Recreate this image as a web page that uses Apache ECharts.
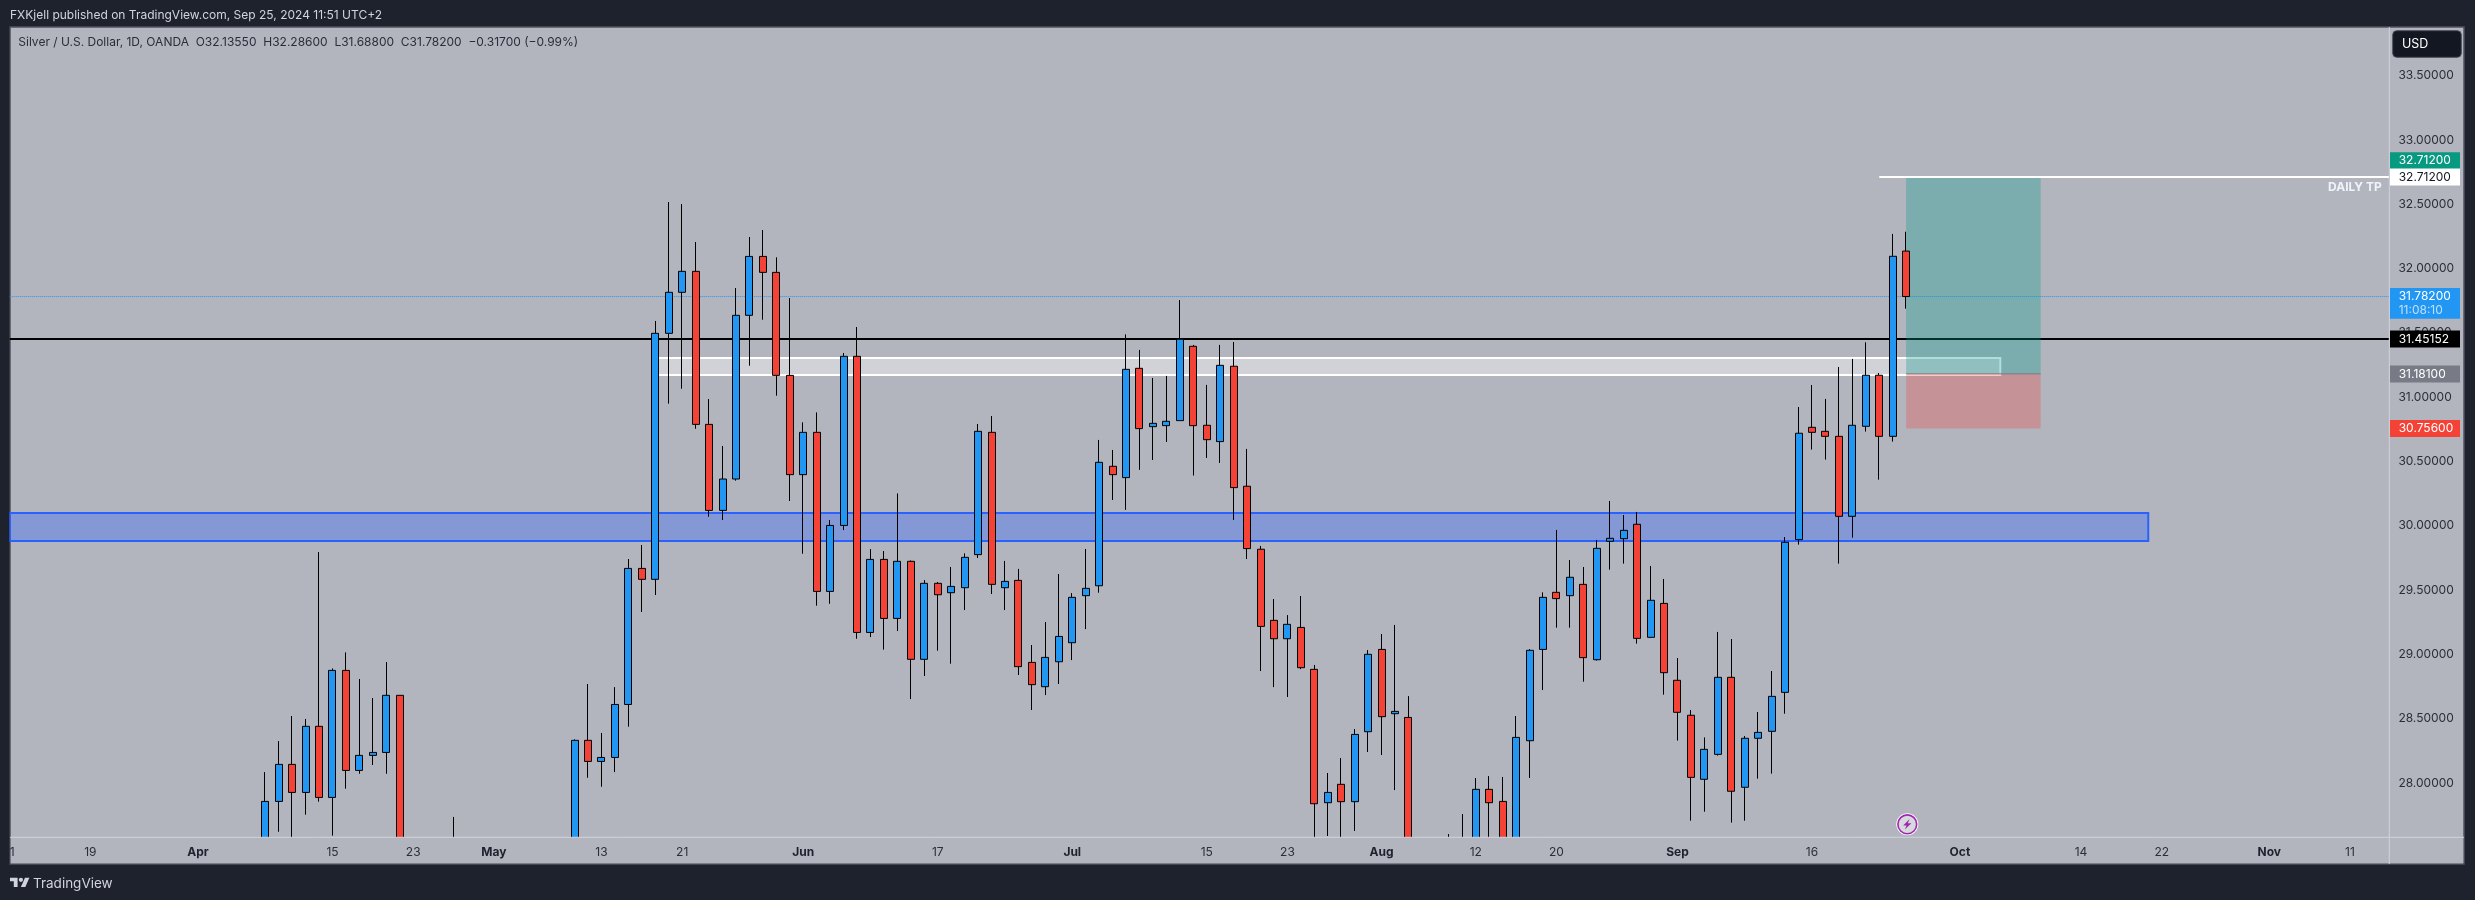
<!DOCTYPE html>
<html>
<head>
<meta charset="utf-8">
<title>Silver / U.S. Dollar</title>
<script src="https://cdn.jsdelivr.net/npm/echarts@6/dist/echarts.min.js"></script>
<style>
  html, body { margin: 0; padding: 0; background: #1e222d; }
  #chart { width: 2475px; height: 900px; }
</style>
</head>
<body>
<div id="chart"></div>
<script>
// bars counted in weekdays from Apr 1 2024
const barIndex = [5,6,7,8,9,10,11,12,13,14,15,19,28,29,30,31,32,33,34,35,36,37,38,39,40,41,42,43,44,45,46,47,48,49,50,51,52,53,54,55,56,57,58,59,60,61,62,63,64,65,66,67,68,69,70,71,72,73,74,75,76,77,78,79,80,81,82,83,84,85,86,87,88,89,90,93,94,95,96,97,98,99,100,101,102,103,104,105,106,107,108,109,110,111,112,113,114,115,116,117,118,119,120,121,122,123,124,125,126,127];
const opens = [27.40,27.856,28.144,27.926,28.44,27.887,28.875,28.097,28.214,28.237,28.681,27.45,27.5,28.331,28.167,28.198,28.61,29.668,29.583,31.496,31.815,31.978,30.788,30.119,30.363,31.636,32.094,31.97,31.169,30.397,30.726,29.489,30.002,31.317,29.17,29.738,29.279,29.723,28.961,29.552,29.479,29.518,29.775,30.726,29.518,29.575,28.937,28.748,28.942,29.09,29.456,29.533,30.462,30.374,31.224,30.77,30.778,30.817,31.395,30.781,30.654,31.24,30.307,29.817,29.264,29.121,29.209,28.883,27.846,27.989,27.854,28.398,29.038,28.538,28.509,27.45,27.45,27.45,27.95,27.856,27.5,28.328,29.038,29.482,29.456,29.544,28.958,29.879,29.899,30.011,29.132,29.396,28.798,28.526,28.028,28.222,28.821,27.966,28.347,28.401,28.704,29.892,30.765,30.734,30.695,30.073,30.773,31.17,30.695,32.1355];
const closes = [27.856,28.144,27.926,28.44,27.887,28.875,28.097,28.214,28.237,28.681,27.4,27.5,28.331,28.167,28.198,28.61,29.668,29.583,31.496,31.815,31.978,30.788,30.119,30.363,31.636,32.094,31.97,31.169,30.397,30.726,29.489,30.002,31.317,29.17,29.738,29.279,29.723,28.961,29.552,29.463,29.528,29.754,30.734,29.544,29.567,28.904,28.764,28.976,29.139,29.443,29.513,30.493,30.397,31.216,30.755,30.796,30.812,31.45,30.778,30.669,31.247,30.296,29.822,29.217,29.121,29.233,28.896,27.838,27.926,27.854,28.377,29.0,28.515,28.556,27.4,27.5,27.5,27.95,27.846,27.5,28.354,29.031,29.443,29.433,29.599,28.974,29.824,29.902,29.964,29.124,29.42,28.857,28.549,28.043,28.261,28.821,27.935,28.347,28.393,28.673,29.871,30.719,30.726,30.695,30.073,30.781,31.17,30.695,32.095,31.782];
const lows = [27.40,27.62,27.55,27.753,27.854,27.59,27.955,28.071,28.139,28.071,27.4,27.42,27.4,28.04,27.97,28.084,28.437,29.329,29.461,30.949,31.065,30.754,30.07,30.044,30.35,31.244,31.602,31.011,30.192,29.782,29.378,29.393,29.966,29.121,29.134,29.036,29.181,28.652,28.831,29.028,28.927,29.344,29.749,29.469,29.344,28.839,28.567,28.683,28.769,28.955,29.196,29.479,30.2,30.123,30.434,30.511,30.651,30.817,30.39,30.527,30.488,30.045,29.741,28.87,28.745,28.668,28.885,27.55,27.587,27.55,27.626,28.24,28.217,27.944,27.4,27.42,27.42,27.42,27.5,27.4,27.4,28.038,28.722,29.207,29.207,28.787,28.951,29.658,29.705,29.083,29.132,28.686,28.329,27.706,27.776,28.212,27.691,27.706,28.033,28.072,28.538,29.853,30.592,30.514,29.705,29.907,30.732,30.358,30.654,31.688];
const highs = [28.084,28.325,28.52,28.497,29.795,28.89,29.015,28.808,28.66,28.94,28.681,27.735,28.338,28.769,28.388,28.745,29.741,29.85,31.592,32.517,32.501,32.206,30.985,30.62,31.848,32.245,32.299,32.087,31.77,30.804,30.881,30.044,31.343,31.545,29.818,29.803,30.251,29.73,29.577,29.562,29.679,29.785,30.791,30.853,29.726,29.664,29.072,29.251,29.624,29.476,29.819,30.667,30.589,31.488,31.367,31.149,31.165,31.755,31.406,31.095,31.406,31.429,30.597,29.843,29.43,29.305,29.453,28.917,28.077,28.193,28.419,29.033,29.158,29.228,28.675,27.602,27.758,28.038,28.053,28.046,28.52,29.04,29.482,29.967,29.733,29.679,29.889,30.192,30.083,30.107,29.687,29.586,28.971,28.567,28.354,29.174,29.119,28.365,28.551,28.87,29.912,30.923,31.094,30.986,31.234,31.297,31.426,31.188,32.269,32.286];

// axis ticks
const priceTicks = [28,28.5,29,29.5,30,30.5,31,31.5,32,32.5,33,33.5];
const dateTicks = [-14,-8,0,10,16,22,30,36,45,55,65,75,81,88,95,101,110,120,131,140,146,154,160];
const dateLabels = ['11','19','Apr','15','23','May','13','21','Jun','17','Jul','15','23','Aug','12','20','Sep','16','Oct','14','22','Nov','11'];

// drawings: [from bar, to bar, lower price, upper price]
const blueZone = [-14,145,29.881,30.098];
const whiteZone = [34,134,31.172,31.305];
const profitZone = [127,137,31.181,32.712];
const lossZone = [127,137,30.756,31.181];
const xMin = -14, xMax = 162.9;
const yMin = 27.577, yMax = 33.878;
const targetPrice = 32.712, supportPrice = 31.45152, lastPrice = 31.782, entryPrice = 31.181;

// price scale badges
const badgePrices = [32.712,32.712,31.782,31.45152,31.181,30.756];
const badgeTexts = ['32.71200','32.71200','31.78200','31.45152','31.18100','30.75600'];

const FONT = 'Inter, "Noto Sans", sans-serif';
const badgeLook = [
    { fill: '#089981', color: '#ffffff', dy: -16.4 },
    { fill: '#ffffff', color: '#131722', dy: 0 },
    { fill: '#2196f3', color: '#ffffff', dy: 0, sub: '11:08:10' },
    { fill: '#000000', color: '#ffffff', dy: 0 },
    { fill: '#787b86', color: '#ffffff', dy: 0 },
    { fill: '#f44336', color: '#ffffff', dy: 0 }
];

function rectSeries(name, row, style, z){
    return {
        type: 'custom', name, z, silent: true, clip: true,
        data: [row],
        encode: { x: [0, 1], y: [2, 3] },
        renderItem(params, api){
            const a = api.coord([api.value(0), api.value(3)]);
            const b = api.coord([api.value(1), api.value(2)]);
            return { type: 'rect', shape: { x: a[0], y: a[1], width: b[0] - a[0], height: b[1] - a[1] }, style };
        }
    };
}

function levelSeries(name, from, to, price, lineStyle, z){
    return {
        type: 'line', name, z, silent: true, showSymbol: false, symbol: 'none', animation: false,
        data: [[from, price], [to, price]],
        lineStyle
    };
}

const badgeSeries = {
    type: 'custom', name: 'badges', z: 10, silent: true, clip: false,
    data: badgePrices.map(p => [127, p]),
    encode: { x: 0, y: 1 },
    renderItem(params, api){
        const look = badgeLook[params.dataIndex];
        const yc = Math.round(api.coord([127, api.value(1)])[1] * 2) / 2 + look.dy;
        const children = [
            { type: 'rect', shape: { x: 2390, y: yc - 8.4, width: 70, height: look.sub ? 30.7 : 16.8 }, style: { fill: look.fill } },
            { type: 'text', x: 2398.7, y: yc, style: { text: badgeTexts[params.dataIndex], fill: look.color, font: '12px ' + FONT, verticalAlign: 'middle' } }
        ];
        if(look.sub){
            children.push({ type: 'text', x: 2398.7, y: yc + 14, style: { text: look.sub, fill: 'rgba(255,255,255,0.7)', font: '12px ' + FONT, verticalAlign: 'middle' } });
        }
        return { type: 'group', children };
    }
};

// chart furniture, all in page pixels
const furniture = [
    { type: 'rect', z: -1, shape: { x: 10, y: 27, width: 2454, height: 837 }, style: { fill: '#b2b5be', stroke: '#50535e', lineWidth: 1.5 } },
    // the time scale strip hides bars running below the pane
    { type: 'rect', z: 6, shape: { x: 10.8, y: 837.3, width: 2452.4, height: 25.9 }, style: { fill: '#b2b5be' } },
    { type: 'line', z: 7, shape: { x1: 10, y1: 837.3, x2: 2464, y2: 837.3 }, style: { stroke: '#d1d4dc', lineWidth: 1 } },
    { type: 'line', z: 7, shape: { x1: 2389.3, y1: 27, x2: 2389.3, y2: 864 }, style: { stroke: '#d1d4dc', lineWidth: 1 } },
    // covers the left half of the first date label, the way the frame does
    { type: 'rect', z: 100, shape: { x: 0, y: 27, width: 9.3, height: 837 }, style: { fill: '#1e222d' } },
    { type: 'text', z: 101, x: 10, y: 15.7, style: { text: 'FXKjell published on TradingView.com, Sep 25, 2024 11:51 UTC+2', fill: '#d1d4dc', font: '12px ' + FONT, verticalAlign: 'middle' } },
    { type: 'text', z: 101, x: 18.3, y: 42.7, style: { text: 'Silver / U.S. Dollar, 1D, OANDA  O32.13550  H32.28600  L31.68800  C31.78200  \u22120.31700 (\u22120.99%)', fill: '#2a2e39', font: '12px ' + FONT, verticalAlign: 'middle' } },
    { type: 'text', z: 101, x: 2381.7, y: 187.7, style: { text: 'DAILY TP', fill: '#f0f3fa', font: 'bold 12px ' + FONT, align: 'right', verticalAlign: 'middle' } },
    // currency button
    { type: 'rect', z: 101, shape: { x: 2392.7, y: 30.7, width: 68.6, height: 26.6, r: 4 }, style: { fill: '#131722', stroke: '#4a4e5a', lineWidth: 1 } },
    { type: 'text', z: 102, x: 2402, y: 44, style: { text: 'USD', fill: '#ffffff', font: '12.5px ' + FONT, verticalAlign: 'middle' } },
    // TradingView logo and name
    { type: 'polygon', z: 101, shape: { points: [[10,877.7],[17.6,877.7],[17.6,886.9],[13.8,886.9],[13.8,881.3],[10,881.3]] }, style: { fill: '#d1d4dc' } },
    { type: 'polygon', z: 101, shape: { points: [[20.9,886.9],[25,877.7],[29.4,877.7],[25.3,886.9]] }, style: { fill: '#d1d4dc' } },
    { type: 'circle', z: 101, shape: { cx: 20.9, cy: 879.8, r: 2.1 }, style: { fill: '#d1d4dc' } },
    { type: 'text', z: 101, x: 33, y: 883.5, style: { text: 'TradingView', fill: '#d1d4dc', font: '13.5px ' + FONT, verticalAlign: 'middle' } },
    // event marker under the last bar
    { type: 'circle', z: 20, shape: { cx: 1907.3, cy: 824.3, r: 11 }, style: { fill: '#ffffff' } },
    { type: 'circle', z: 21, shape: { cx: 1907.3, cy: 824.3, r: 9.4 }, style: { fill: '#d8d9de', stroke: '#9c27b0', lineWidth: 1.6 } },
    { type: 'polygon', z: 22, shape: { points: [[1909.6,819],[1903.2,825.4],[1906.6,825.4],[1904.8,829.6],[1911.4,823.2],[1907.8,823.2]] }, style: { fill: '#9c27b0' } }
];

const chart = echarts.init(document.getElementById('chart'));
chart.setOption({
    animation: false,
    backgroundColor: '#1e222d',
    grid: { left: 9.7, right: 86, top: 27, bottom: 62.7, containLabel: false },
    xAxis: {
        type: 'value', min: xMin, max: xMax, z: 8,
        axisLine: { show: false }, axisTick: { show: false }, splitLine: { show: false },
        axisLabel: {
            customValues: dateTicks,
            margin: 9,
            fontFamily: FONT,
            fontSize: 12,
            color: '#2a2e39',
            formatter(v){
                const text = dateLabels[dateTicks.indexOf(v)];
                return /^[A-Z]/.test(text) ? '{m|' + text + '}' : text;
            },
            rich: { m: { fontFamily: FONT, fontSize: 12, fontWeight: 'bold', color: '#1e222d' } }
        }
    },
    yAxis: {
        type: 'value', position: 'right', min: yMin, max: yMax,
        axisLine: { show: false }, axisTick: { show: false }, splitLine: { show: false },
        axisLabel: {
            customValues: priceTicks,
            margin: 9.4,
            fontFamily: FONT,
            fontSize: 12,
            color: '#2a2e39',
            formatter: v => v.toFixed(5)
        }
    },
    graphic: { elements: furniture },
    series: [
        rectSeries('blueZone', blueZone, { fill: 'rgba(41,98,255,0.34)', stroke: '#2962ff', lineWidth: 2 }, 1),
        rectSeries('whiteZone', whiteZone, { fill: 'rgba(255,255,255,0.4)', stroke: '#ffffff', lineWidth: 2 }, 1),
        levelSeries('support', xMin, xMax, supportPrice, { color: '#000000', width: 2 }, 2),
        levelSeries('lastPrice', xMin, xMax, lastPrice, { color: '#2196f3', width: 1, type: 'dotted' }, 2),
        rectSeries('profit', profitZone, { fill: 'rgba(8,153,140,0.32)' }, 3),
        rectSeries('loss', lossZone, { fill: 'rgba(244,67,54,0.29)' }, 3),
        levelSeries('entry', 127, 137, entryPrice, { color: '#787b86', width: 1 }, 4),
        levelSeries('target', 125, xMax, targetPrice, { color: '#ffffff', width: 2 }, 4),
        {
            type: 'candlestick', name: 'XAGUSD', z: 5, silent: true, barWidth: 7.5,
            data: barIndex.map((x, k) => [x, opens[k], closes[k], lows[k], highs[k]]),
            itemStyle: { color: '#2196f3', color0: '#f44336', borderColor: '#000000', borderColor0: '#000000', borderWidth: 1 }
        },
        badgeSeries
    ]
});
</script>
</body>
</html>
